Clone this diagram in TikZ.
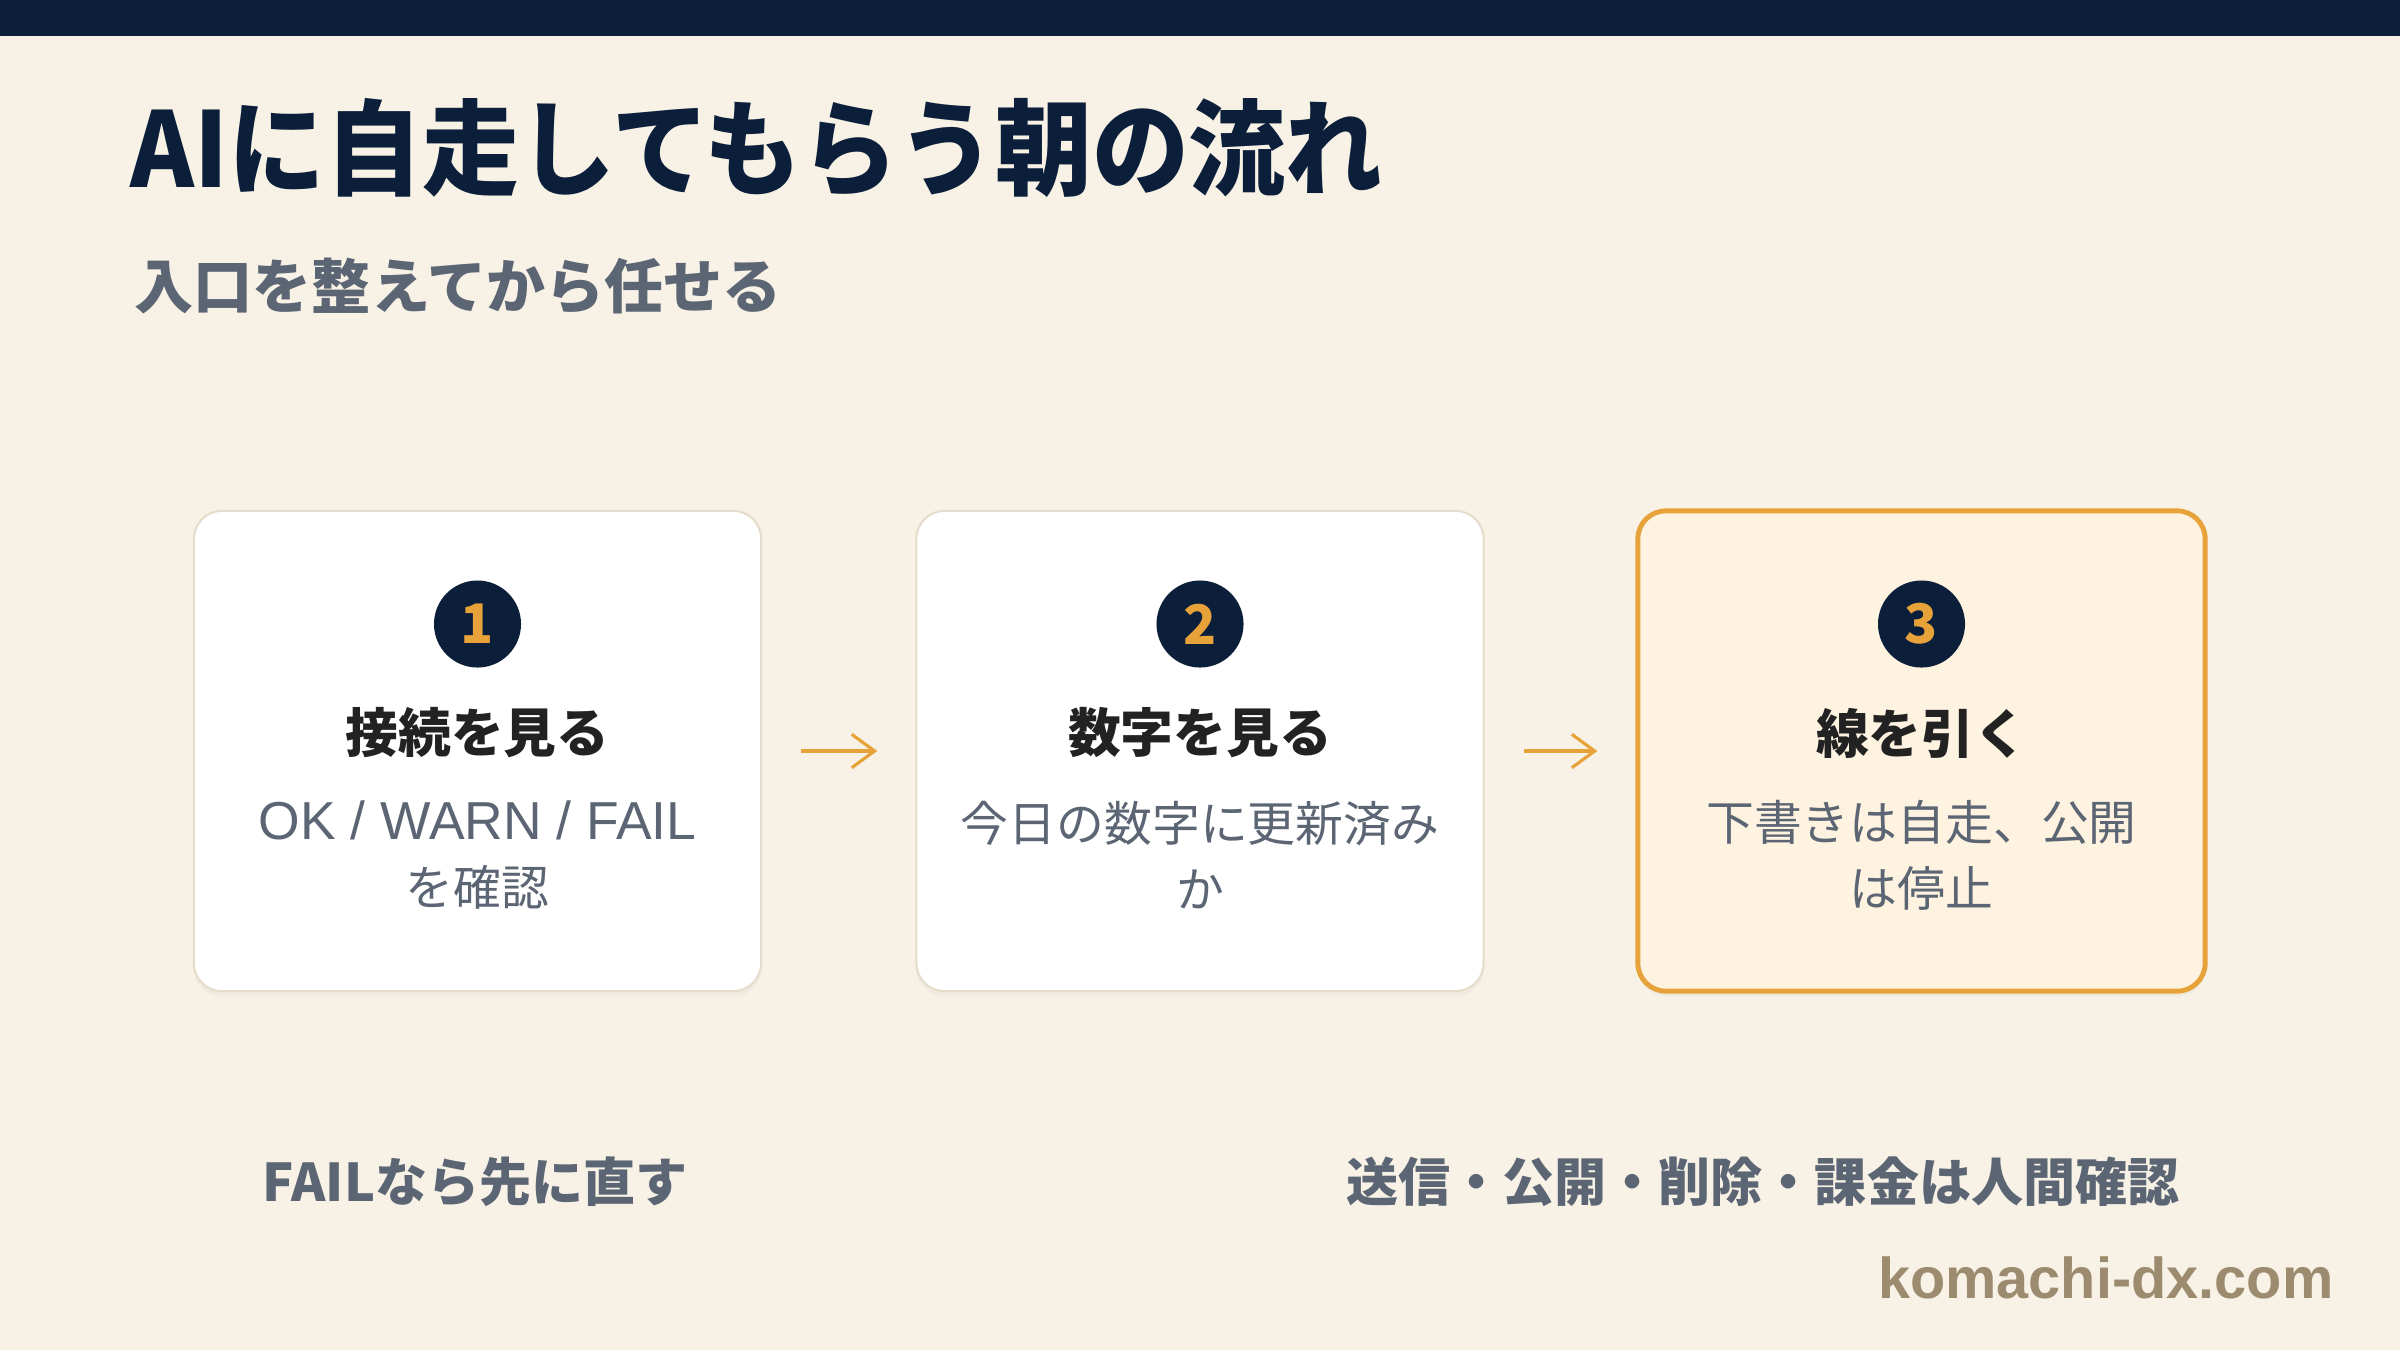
\documentclass[tikz,border=0pt]{standalone}
\usepackage{fontspec}
\setmainfont{Noto Sans CJK JP}
\newfontfamily\titlefont{Noto Sans CJK JP}[FakeStretch=0.93]
\newfontfamily\latinfont{Liberation Sans}
\usetikzlibrary{
    arrows.meta,
    positioning,
    shadows
}
\definecolor{navy}{HTML}{0B1F3A}
\definecolor{paper}{HTML}{F7F1E6}
\definecolor{ink}{HTML}{222222}
\definecolor{slate}{HTML}{5B6573}
\definecolor{amber}{HTML}{E8A23A}
\definecolor{cream}{HTML}{FEF3E0}
\definecolor{edge}{HTML}{E6DCCB}
\definecolor{khaki}{HTML}{9C8B6E}
\tikzstyle{stepbox} = [
    rectangle,
    rounded corners=0.28cm,
    draw=edge,
    line width=0.6pt,
    fill=white,
    minimum width=5.67cm,
    minimum height=4.8cm,
    drop shadow={opacity=0.05, shadow xshift=0pt, shadow yshift=-1.5pt}
]
\tikzstyle{activebox} = [
    stepbox,
    draw=amber,
    fill=cream,
    line width=1.4pt
]
\tikzstyle{badge} = [
    circle,
    fill=navy,
    minimum size=0.87cm,
    inner sep=0pt,
    text=amber,
    font=\fontsize{15.5pt}{18pt}\selectfont\bfseries
]
\tikzstyle{heading} = [
    inner sep=0pt,
    text=ink,
    font=\fontsize{15pt}{18pt}\selectfont\bfseries
]
\tikzstyle{desc} = [
    inner sep=0pt,
    align=center,
    text=slate,
    font=\fontsize{13.6pt}{18.8pt}\selectfont
]
\tikzstyle{note} = [
    inner sep=0pt,
    text=slate,
    font=\fontsize{14.8pt}{18pt}\selectfont\bfseries
]
\tikzstyle{flow} = [
    -{Straight Barb[length=6.5pt, width=9.5pt]},
    line width=0.9pt,
    draw=amber,
    shorten <=0.39cm,
    shorten >=0.38cm
]
\begin{document}
\begin{tikzpicture}[x=0.01cm, y=-0.01cm]
        % Page and top bar
        \fill[paper] (0,0) rectangle (2400,1350);
        \fill[navy] (0,0) rectangle (2400,36);
        \useasboundingbox (0,0) rectangle (2400,1350);

        % Title
        \node[anchor=base west, inner sep=0pt, text=navy, font=\titlefont\fontsize{29.6pt}{34pt}\selectfont\bfseries] (title) at (130,187) {AIに自走してもらう朝の流れ};
        \node[anchor=base west, inner sep=0pt, text=slate, font=\fontsize{16.8pt}{20pt}\selectfont\bfseries] (subtitle) at (134,308) {入口を整えてから任せる};

        % Step 1
        \node[stepbox] (box1) at (477.5,751) {};
        \node[badge] (num1) at (477.5,624) {1};
        \node[heading] (head1) at (477.5,733) {接続を見る};
        \node[desc] (desc1) at (477.5,855) {{\latinfont\fontsize{15.2pt}{18.8pt}\selectfont OK / WARN / FAIL}\\を確認};

        % Step 2
        \node[stepbox] (box2) at (1200,751) {};
        \node[badge] (num2) at (1200,624) {2};
        \node[heading] (head2) at (1200,733) {数字を見る};
        \node[desc] (desc2) at (1200,855) {今日の数字に更新済み\\か};

        % Step 3 - highlighted
        \node[activebox] (box3) at (1921.5,751) {};
        \node[badge] (num3) at (1921.5,624) {3};
        \node[heading] (head3) at (1921.5,733) {線を引く};
        \node[desc] (desc3) at (1921.5,855) {下書きは自走、公開\\は停止};

        % Arrows
        \draw[flow] (box1) -- (box2);
        \draw[flow] (box2) -- (box3);

        % Notes
        \node[note] (note1) at (475,1182) {FAILなら先に直す};
        \node[note, anchor=east] (note2) at (2180,1182) {送信・公開・削除・課金は人間確認};
        \node[anchor=east, inner sep=0pt, text=khaki, font=\latinfont\bfseries\fontsize{16.4pt}{20pt}\selectfont] (site) at (2334,1278) {komachi-dx.com};
    \end{tikzpicture}
\end{document}
